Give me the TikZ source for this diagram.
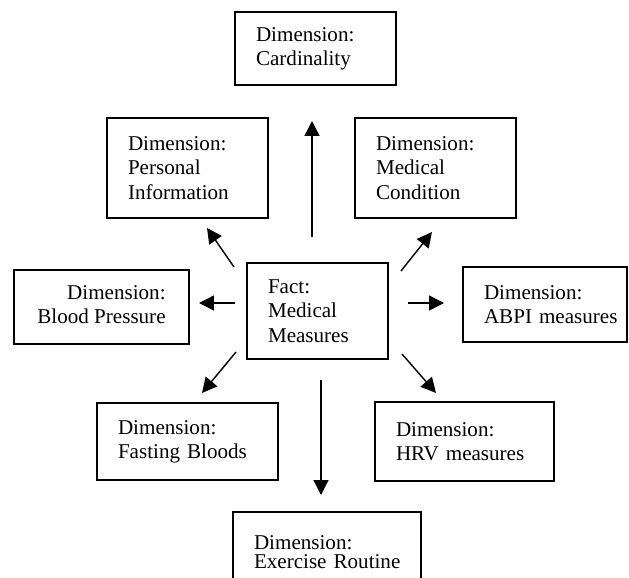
\documentclass[tikz,border=0pt]{standalone}
\usepackage{fontspec}
\setmainfont{Liberation Serif}
\usetikzlibrary{arrows.meta}

\tikzset{
  box/.style={draw, line width=1pt, inner xsep=0.42cm, inner ysep=0pt, align=left,
    font=\fontsize{12}{13.8}\selectfont},
  arrow/.style={line width=0.8pt, -{Triangle[length=0.3cm, width=0.3cm]}}
}

\begin{document}
\begin{tikzpicture}[x=0.02cm, y=-0.02cm]
\useasboundingbox (0,0) rectangle (629,578);

% Fact
\node[box, text width=1.98cm, minimum height=1.92cm] (fact) at (317.5,311) {Fact:\\Medical\\Measures};

% Dimensions
\node[box, text width=2.38cm, minimum height=1.46cm] (card) at (315.5,48.5) {Dimension:\\Cardinality};
\node[box, text width=2.38cm, minimum height=2cm] (personal) at (187.5,168) {Dimension:\\Personal\\Information};
\node[box, text width=2.38cm, minimum height=2cm] (condition) at (435.5,168) {Dimension:\\Medical\\Condition};
\node[box, minimum width=3.5cm, minimum height=1.48cm] (pressure) at (101.5,307)
  {\begin{tabular}{@{}r@{}}Dimension:\\Blood Pressure\end{tabular}};
\node[box, text width=2.44cm, minimum height=1.5cm] (abpi) at (545,304.5) {Dimension:\\\mbox{ABPI measures}};
\node[box, text width=2.78cm, minimum height=1.54cm] (bloods) at (187.5,441.5) {Dimension:\\\mbox{Fasting Bloods}};
\node[box, text width=2.74cm, minimum height=1.58cm] (hrv) at (464.5,441.5) {Dimension:\\\mbox{HRV measures}};
\node[box, text width=2.92cm, minimum height=1.6cm, font=\fontsize{12}{10.5}\selectfont] (exercise) at (327,552)
  {Dimension:\\\mbox{Exercise Routine}};

% Arrow ends
\coordinate (card-s) at (312,237);
\coordinate (card-e) at (312,121);
\coordinate (personal-s) at (234,267);
\coordinate (personal-e) at (207,228);
\coordinate (condition-s) at (401,271);
\coordinate (condition-e) at (432,232);
\coordinate (pressure-s) at (235,303);
\coordinate (pressure-e) at (199,303);
\coordinate (abpi-s) at (408,303);
\coordinate (abpi-e) at (444,303);
\coordinate (bloods-s) at (236,352);
\coordinate (bloods-e) at (202,393);
\coordinate (hrv-s) at (402,354);
\coordinate (hrv-e) at (436,393);
\coordinate (exercise-s) at (321,380);
\coordinate (exercise-e) at (321,495);

% Arrows
\foreach \d in {card,personal,condition,pressure,abpi,bloods,hrv,exercise}
  \draw[arrow] (\d-s) -- (\d-e);
\end{tikzpicture}
\end{document}
